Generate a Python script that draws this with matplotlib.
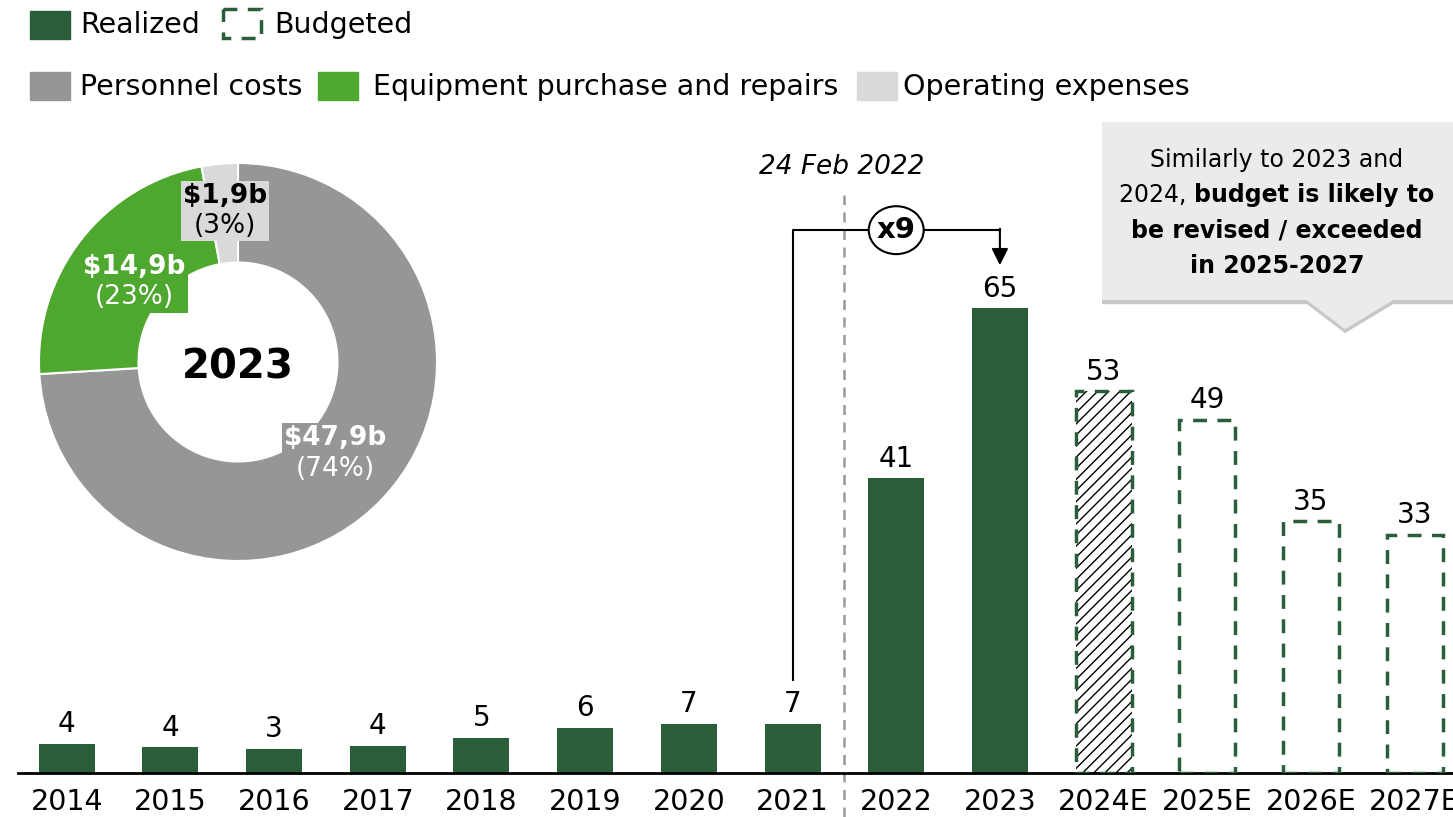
import matplotlib.pyplot as plt
from matplotlib.patches import Rectangle, Ellipse, Polygon
from matplotlib.offsetbox import TextArea, VPacker, HPacker, AnnotationBbox
import matplotlib.patheffects as pe

plt.rcParams["font.family"] = ["DejaVu Sans"]
plt.rcParams["hatch.linewidth"] = 1.0

years = ["2014", "2015", "2016", "2017", "2018", "2019", "2020", "2021",
         "2022", "2023", "2024E", "2025E", "2026E", "2027E"]
spend = [4.1, 3.6, 3.4, 3.8, 4.9, 6.3, 6.9, 6.9, 41.2, 65.0, 53.4, 49.4, 35.2, 33.3]
realized = [True] * 10 + [False] * 4

cost_labels = ["Personnel costs", "Equipment purchase and repairs", "Operating expenses"]
cost_values = [47.9, 14.9, 1.9]
cost_text = ["$47,9b", "$14,9b", "$1,9b"]

DARK = "#2a5e3b"
GREEN = "#4ea72e"
GREY = "#969696"
LIGHT = "#d9d9d9"
cost_colors = [GREY, GREEN, LIGHT]

W, H = 1453, 817
fig = plt.figure(figsize=(W / 100, H / 100), dpi=100)

# ---- bars
ax = fig.add_axes([18 / W, 44 / H, (W - 18) / W, 673 / H])
ax.set_xlim(-0.47, 13.37)
ax.set_ylim(0, 94.1)
x = list(range(len(years)))
for i, (v, r) in enumerate(zip(spend, realized)):
    if r:
        ax.bar(i, v, width=0.54, color=DARK, zorder=2)
    else:
        if years[i] == "2024E":
            ax.bar(i, v, width=0.54, color="white", edgecolor="black", hatch="///",
                   linewidth=0, zorder=2)
        ax.bar(i, v, width=0.54, fill=False, edgecolor=DARK, linewidth=2.5,
               linestyle=(0, (4, 3)), zorder=3)
    ax.annotate(f"{v:.0f}", (i, v), xytext=(0, 4), textcoords="offset points",
                ha="center", va="bottom", fontsize=20)

ax.set_xticks(x)
ax.set_xticklabels(years, fontsize=20.5)
ax.tick_params(axis="x", length=0, pad=11)
ax.set_yticks([])
for s in ["left", "right", "top"]:
    ax.spines[s].set_visible(False)
ax.spines["bottom"].set_linewidth(2)
ax.patch.set_visible(False)

# invasion marker
ax.plot([7.5, 7.5], [-6.2, 80.8], color="#999999", lw=1.8, ls=(0, (4, 3)),
        clip_on=False, zorder=1)
ax.text(7.47, 84.8, "24 Feb 2022", ha="center", va="center", fontsize=19,
        style="italic")

# x9 bracket
ax.plot([7, 7, 9], [13, 75.9, 75.9], color="black", lw=1.5, zorder=4)
ax.annotate("", xy=(9, 71.0), xytext=(9, 76.1),
            arrowprops=dict(arrowstyle="-|>", color="black", lw=1.5,
                            mutation_scale=25, shrinkA=0, shrinkB=0), zorder=4)
ax.add_patch(Ellipse((8, 75.9), 0.53, 6.7, facecolor="white", edgecolor="black",
                     lw=1.5, zorder=5))
ax.text(8, 75.9, "x9", ha="center", va="center", fontsize=21, weight="bold", zorder=6)

# ---- donut
cx, cy, rad = 238, 362, 199
dax = fig.add_axes([(cx - rad) / W, (H - cy - rad) / H, 2 * rad / W, 2 * rad / H])
dax.pie(cost_values, colors=cost_colors, startangle=90, counterclock=False,
        wedgeprops=dict(width=0.5, edgecolor="white", linewidth=1.5))
dax.set_xlim(-1, 1)
dax.set_ylim(-1, 1)
dax.set_aspect("equal")
dax.text(0, -0.03, "2023", ha="center", va="center", fontsize=29, weight="bold")

total = sum(cost_values)
label_pos = [(0.49, -0.46), (-0.52, 0.40), (-0.065, 0.76)]
label_color = ["white", "white", "black"]
for val, txt, pos, col, fc in zip(cost_values, cost_text, label_pos, label_color, cost_colors):
    box = VPacker(children=[
        TextArea(txt, textprops=dict(fontsize=19, weight="bold", color=col)),
        TextArea(f"({val / total:.0%})", textprops=dict(fontsize=19, color=col)),
    ], align="center", pad=0, sep=3)
    ab = AnnotationBbox(box, pos, xycoords="data", frameon=True, pad=0.15,
                        bboxprops=dict(facecolor=fc, edgecolor="none"))
    dax.add_artist(ab)

# ---- overlay: legend + callout in pixel coordinates
ov = fig.add_axes([0, 0, 1, 1], zorder=10)
ov.set_xlim(0, W)
ov.set_ylim(H, 0)
ov.axis("off")
ov.patch.set_visible(False)

ov.add_patch(Rectangle((30, 11), 40, 28, color=DARK))
ov.text(80, 25, "Realized", va="center", fontsize=20.5)
ov.add_patch(Rectangle((223, 9), 38, 29, fill=False, edgecolor=DARK, lw=2.5,
                       linestyle=(0, (4, 3))))
ov.text(274, 25, "Budgeted", va="center", fontsize=20.5)

leg_x = [(30, 80), (318, 373), (857, 903)]
for (sx, tx), lab, col in zip(leg_x, cost_labels, cost_colors):
    ov.add_patch(Rectangle((sx, 72), 40, 28, color=col))
    ov.text(tx, 87, lab, va="center", fontsize=20.5)

callout = Polygon([(1102, 122), (1460, 122), (1460, 300), (1393, 300), (1345, 329),
                   (1307, 300), (1102, 300)], closed=True, facecolor="#ebebeb",
                  edgecolor="none",
                  path_effects=[pe.withSimplePatchShadow(offset=(0, -3), alpha=0.3),
                                pe.Normal()])
ov.add_patch(callout)
lines = VPacker(children=[
    TextArea("Similarly to 2023 and", textprops=dict(fontsize=17)),
    HPacker(children=[TextArea("2024, ", textprops=dict(fontsize=17)),
                      TextArea("budget is likely to", textprops=dict(fontsize=17, weight="bold"))],
            align="baseline", pad=0, sep=0),
    TextArea("be revised / exceeded", textprops=dict(fontsize=17, weight="bold")),
    TextArea("in 2025-2027", textprops=dict(fontsize=17, weight="bold")),
], align="center", pad=0, sep=8)
ov.add_artist(AnnotationBbox(lines, (1277, 213), xycoords="data", frameon=False))

fig.savefig("out.png", dpi=100)
